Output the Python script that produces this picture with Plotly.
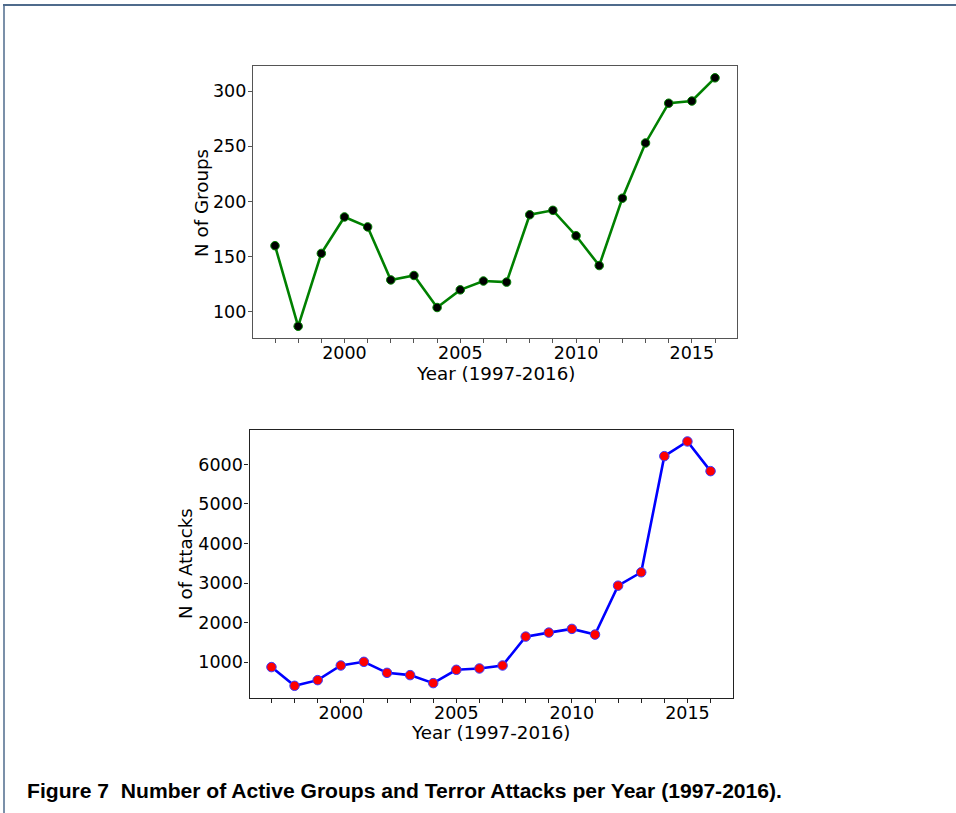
import plotly.graph_objects as go

W, H = 956, 813

years = list(range(1997, 2017))
n_groups = [160, 87, 153, 186, 177, 129, 133, 104, 120, 128,
            127, 188, 192, 169, 142, 203, 253, 289, 291, 312]
n_attacks = [875, 402, 545, 915, 1008, 730, 672, 470, 806, 840,
             915, 1646, 1747, 1841, 1697, 2934, 3273, 6210, 6581, 5831]

groups_ticks = [100, 150, 200, 250, 300]
attacks_ticks = [1000, 2000, 3000, 4000, 5000, 6000]
year_ticks = [2000, 2005, 2010, 2015]

y_title_top = "N of Groups"
y_title_bottom = "N of Attacks"
x_title = "Year (1997-2016)"
caption = "Figure 7\u00a0 Number of Active Groups and Terror Attacks per Year (1997-2016)."

FONT = "DejaVu Sans"

def px_x(v):
    return v / W

def px_y(v):
    return 1 - v / H

fig = go.Figure()

fig.add_trace(go.Scatter(
    x=years, y=n_groups, mode="lines+markers", xaxis="x", yaxis="y",
    line=dict(color="#008000", width=2.6),
    marker=dict(color="black", size=8.5, line=dict(color="#008000", width=1)),
    showlegend=False, hoverinfo="x+y",
))
fig.add_trace(go.Scatter(
    x=years, y=n_attacks, mode="lines+markers", xaxis="x2", yaxis="y2",
    line=dict(color="#0000ff", width=2.6),
    marker=dict(color="#ff0000", size=9.5, line=dict(color="#3a3aff", width=1)),
    showlegend=False, hoverinfo="x+y",
))

tickfont = dict(family=FONT, size=17.5, color="black")

def xaxis_cfg(domain, anchor, lc):
    return dict(
        domain=domain, anchor=anchor, range=[1996.05, 2016.95],
        tickvals=year_ticks, ticktext=[str(v) for v in year_ticks],
        ticks="outside", ticklen=4, tickwidth=1, tickcolor=lc,
        minor=dict(tickvals=years, ticks="outside", ticklen=4, tickwidth=1, tickcolor=lc),
        showline=True, linecolor=lc, linewidth=1.3, mirror=True,
        showgrid=False, zeroline=False, tickfont=tickfont,
        ticklabelstandoff=-5,
    )

def yaxis_cfg(domain, anchor, rng, tv, lc):
    return dict(
        domain=domain, anchor=anchor, range=rng,
        tickvals=tv, ticktext=[str(v) for v in tv],
        ticks="outside", ticklen=4, tickwidth=1, tickcolor=lc,
        showline=True, linecolor=lc, linewidth=1.3, mirror=True,
        showgrid=False, zeroline=False, tickfont=tickfont,
        ticklabelstandoff=-2,
    )

top_x = [px_x(253), px_x(737)]
top_y = [px_y(338), px_y(66)]
bot_x = [px_x(249.5), px_x(732.5)]
bot_y = [px_y(697.5), px_y(429.5)]

fig.update_layout(
    width=W, height=H,
    margin=dict(l=0, r=0, t=0, b=0),
    paper_bgcolor="white", plot_bgcolor="white",
    font=dict(family=FONT, color="black"),
    xaxis=xaxis_cfg(top_x, "y", "#555555"),
    yaxis=yaxis_cfg(top_y, "x", [76.4, 322.7], groups_ticks, "#555555"),
    xaxis2=xaxis_cfg(bot_x, "y2", "#222222"),
    yaxis2=yaxis_cfg(bot_y, "x2", [106, 6884], attacks_ticks, "#222222"),
)

annotations = [
    dict(text=y_title_top, x=px_x(202), y=px_y(203), textangle=-90),
    dict(text=y_title_bottom, x=px_x(185), y=px_y(564), textangle=-90),
    dict(text=x_title, x=px_x(495), y=px_y(373)),
    dict(text=x_title, x=px_x(491), y=px_y(732)),
]
for a in annotations:
    fig.add_annotation(xref="paper", yref="paper", showarrow=False,
                       xanchor="center", yanchor="middle",
                       font=dict(family=FONT, size=18.3, color="black"), **a)

fig.add_annotation(xref="paper", yref="paper", showarrow=False,
                   x=px_x(25), y=px_y(790), xanchor="left", yanchor="middle",
                   text="<b>" + caption + "</b>",
                   font=dict(family="Liberation Sans", size=21.1, color="black"))

border = "#4f6b8c"
fig.add_shape(type="line", xref="paper", yref="paper",
              x0=px_x(3), x1=1, y0=px_y(5), y1=px_y(5),
              line=dict(color=border, width=2))
fig.add_shape(type="line", xref="paper", yref="paper",
              x0=px_x(4), x1=px_x(4), y0=px_y(5), y1=0,
              line=dict(color=border, width=1.5))

fig.write_html("out.html", config={"displayModeBar": False},
               post_script="document.body.style.margin='0px';document.body.style.overflow='hidden';")
